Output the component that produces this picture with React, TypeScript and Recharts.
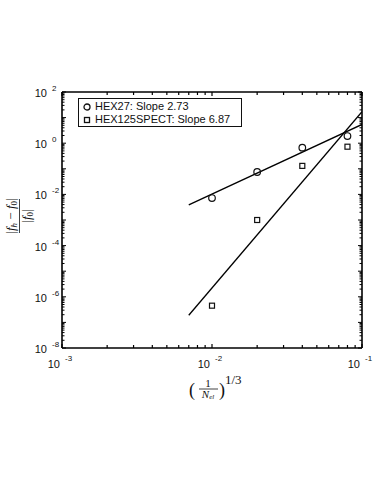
import React from 'react';
import { ComposedChart, Line, Scatter, XAxis, YAxis, Legend } from 'recharts';

// element size (1/N_el)^(1/3) and relative error for each run
const elementSizes = [0.01, 0.02, 0.04, 0.08];
const hex27Errors = [0.0072, 0.075, 0.67, 1.9];
const hex125Errors = [4.5e-7, 1.0e-3, 0.13, 0.73];

// least squares fit lines, end points
const fitX = [0.007, 0.1];
const hex27FitY = [0.0039, 5.4];
const hex125FitY = [1.9e-7, 17];

const seriesNames = ['HEX27: Slope 2.73', 'HEX125SPECT: Slope 6.87'];

const xDecades = [-3, -2, -1];
const yDecades = [-8, -7, -6, -5, -4, -3, -2, -1, 0, 1, 2];
const yLabelDecades = [-8, -6, -4, -2, 0, 2];

const W = 374;
const H = 484;
const FONT = '"Liberation Sans", Arial, Helvetica, sans-serif';
const MATH = '"Liberation Serif", "DejaVu Serif", serif';
const INK = '#111';

const withMinors = (decades: number[]) => {
  const out: number[] = [];
  decades.forEach((d, i) => {
    out.push(Math.pow(10, d));
    if (i < decades.length - 1) {
      for (let m = 2; m <= 9; m++) out.push(m * Math.pow(10, d));
    }
  });
  return out;
};

const xTicks = withMinors(xDecades);
const yTicks = withMinors(yDecades);

const hex27Data = elementSizes.map((x, i) => ({ x, y: hex27Errors[i] }));
const hex125Data = elementSizes.map((x, i) => ({ x, y: hex125Errors[i] }));
const hex27Fit = fitX.map((x, i) => ({ x, y: hex27FitY[i] }));
const hex125Fit = fitX.map((x, i) => ({ x, y: hex125FitY[i] }));

const decadeOf = (v: number) => {
  const e = Math.log10(v);
  const r = Math.round(e);
  return Math.abs(e - r) < 1e-6 ? r : null;
};

const XTick = (props: any) => {
  const { x, y, payload, side } = props;
  const d = decadeOf(payload.value);
  const len = d !== null ? 4 : 3;
  const dir = side === 'top' ? 1 : -1;
  return (
    <g>
      <path d={`M${x},${y}L${x},${y + dir * len}`} stroke="#000" strokeWidth={1.2} fill="none" />
      {d !== null && side === 'bottom' && (
        <>
          <text x={x - 2} y={y + 20} textAnchor="end" fontSize={11} fontFamily={FONT} fill={INK}>10</text>
          <text x={x + 3} y={y + 13} textAnchor="start" fontSize={8} fontFamily={FONT} fill={INK}>{d}</text>
        </>
      )}
    </g>
  );
};

const YTick = (props: any) => {
  const { x, y, payload, side } = props;
  const d = decadeOf(payload.value);
  const len = d !== null ? 4 : 2.5;
  const dir = side === 'right' ? -1 : 1;
  const labelled = d !== null && side === 'left' && yLabelDecades.includes(d);
  return (
    <g>
      <path d={`M${x},${y}L${x + dir * len},${y}`} stroke="#000" strokeWidth={1} fill="none" />
      {labelled && (
        <>
          <text x={x - 15} y={y + 5} textAnchor="end" fontSize={11} fontFamily={FONT} fill={INK}>10</text>
          <text x={x - 10} y={y - 1} textAnchor="start" fontSize={8} fontFamily={FONT} fill={INK}>{d}</text>
        </>
      )}
    </g>
  );
};

const Circle = ({ cx, cy }: any) => (
  <circle cx={cx} cy={cy} r={3.3} fill="none" stroke={INK} strokeWidth={1.2} />
);

const Square = ({ cx, cy }: any) => (
  <rect x={cx - 2.5} y={cy - 2.5} width={5} height={5} fill="none" stroke={INK} strokeWidth={1.2} />
);

const LegendBox = () => (
  <div
    style={{
      border: `1px solid ${INK}`,
      background: '#fff',
      fontFamily: FONT,
      fontSize: 11,
      color: INK,
      width: 164,
      height: 29,
      boxSizing: 'border-box',
      padding: '1px 0 0 3px',
      lineHeight: '13px',
    }}
  >
    {seriesNames.map((name, i) => (
      <div key={name} style={{ display: 'flex', alignItems: 'center', height: 13 }}>
        <svg width={10} height={10} style={{ marginRight: 3 }}>
          {i === 0 ? (
            <circle cx={5} cy={5} r={3} fill="none" stroke={INK} strokeWidth={1.3} />
          ) : (
            <rect x={2.5} y={2.5} width={5} height={5} fill="none" stroke={INK} strokeWidth={1.3} />
          )}
        </svg>
        <span>{name}</span>
      </div>
    ))}
  </div>
);

const AxisTitles = () => (
  <svg width={W} height={H} style={{ position: 'absolute', left: 0, top: 0, pointerEvents: 'none' }}>
    {/* y label: |f_h - f_0| / |f_0| */}
    <g transform="translate(19.5,216) rotate(-90)" fontFamily={MATH} fill={INK}>
      <text x={0} y={-5} textAnchor="middle" fontSize={13}>
        |<tspan fontStyle="italic">f</tspan>
        <tspan fontStyle="italic" fontSize={9} dy={2}>h</tspan>
        <tspan dy={-2}> − </tspan>
        <tspan fontStyle="italic">f</tspan>
        <tspan fontSize={9} dy={2}>0</tspan>
        <tspan dy={-2}>|</tspan>
      </text>
      <line x1={-17} y1={0} x2={17} y2={0} stroke={INK} strokeWidth={0.8} />
      <text x={0} y={11} textAnchor="middle" fontSize={13}>
        |<tspan fontStyle="italic">f</tspan>
        <tspan fontSize={9} dy={2}>0</tspan>
        <tspan dy={-2}>|</tspan>
      </text>
    </g>
    {/* x label: (1/N_el)^(1/3) */}
    <g fontFamily={MATH} fill={INK}>
      <text x={189} y={396} fontSize={18}>(</text>
      <text x={208} y={387} textAnchor="middle" fontSize={11}>1</text>
      <line x1={199} y1={389} x2={218} y2={389} stroke={INK} strokeWidth={0.8} />
      <text x={208} y={398} textAnchor="middle" fontSize={11}>
        <tspan fontStyle="italic">N</tspan>
        <tspan fontStyle="italic" fontSize={7} dy={1}>el</tspan>
      </text>
      <text x={219} y={396} fontSize={18}>)</text>
      <text x={225} y={384} fontSize={13}>1/3</text>
    </g>
  </svg>
);

export default function App() {
  const axisLine = { stroke: '#000', strokeWidth: 1.6 };
  return (
    <div style={{ position: 'absolute', left: 0, top: 0, width: W, height: H, background: '#fff' }}>
      <ComposedChart width={W} height={H} margin={{ top: 82, right: 2, bottom: 106, left: 22 }}>
        <XAxis
          xAxisId="bottom"
          dataKey="x"
          type="number"
          scale="log"
          domain={[0.001, 0.1]}
          allowDataOverflow
          ticks={xTicks}
          interval={0}
          height={30}
          tickSize={0}
          tickMargin={0}
          axisLine={axisLine}
          tick={<XTick side="bottom" />}
        />
        <XAxis
          xAxisId="top"
          orientation="top"
          dataKey="x"
          type="number"
          scale="log"
          domain={[0.001, 0.1]}
          allowDataOverflow
          ticks={xTicks}
          interval={0}
          height={10}
          tickSize={0}
          tickMargin={0}
          axisLine={axisLine}
          tick={<XTick side="top" />}
        />
        <YAxis
          yAxisId="left"
          type="number"
          scale="log"
          domain={[1e-8, 100]}
          allowDataOverflow
          ticks={yTicks}
          interval={0}
          width={40}
          tickSize={0}
          tickMargin={0}
          axisLine={axisLine}
          tick={<YTick side="left" />}
        />
        <YAxis
          yAxisId="right"
          orientation="right"
          type="number"
          scale="log"
          domain={[1e-8, 100]}
          allowDataOverflow
          ticks={yTicks}
          interval={0}
          width={10}
          tickSize={0}
          tickMargin={0}
          axisLine={axisLine}
          tick={<YTick side="right" />}
        />
        <Line xAxisId="bottom" yAxisId="left" data={hex27Fit} dataKey="y" stroke="#000" strokeWidth={1.3} dot={false} legendType="none" isAnimationActive={false} />
        <Line xAxisId="bottom" yAxisId="left" data={hex125Fit} dataKey="y" stroke="#000" strokeWidth={1.3} dot={false} legendType="none" isAnimationActive={false} />
        <Scatter xAxisId="bottom" yAxisId="left" name={seriesNames[0]} data={hex27Data} dataKey="y" shape={<Circle />} isAnimationActive={false} />
        <Scatter xAxisId="bottom" yAxisId="left" name={seriesNames[1]} data={hex125Data} dataKey="y" shape={<Square />} isAnimationActive={false} />
        <Legend
          layout="horizontal"
          verticalAlign="middle"
          align="center"
          content={<LegendBox />}
          wrapperStyle={{ position: 'absolute', left: 78, top: 98, width: 164, height: 29 }}
        />
      </ComposedChart>
      <AxisTitles />
    </div>
  );
}
